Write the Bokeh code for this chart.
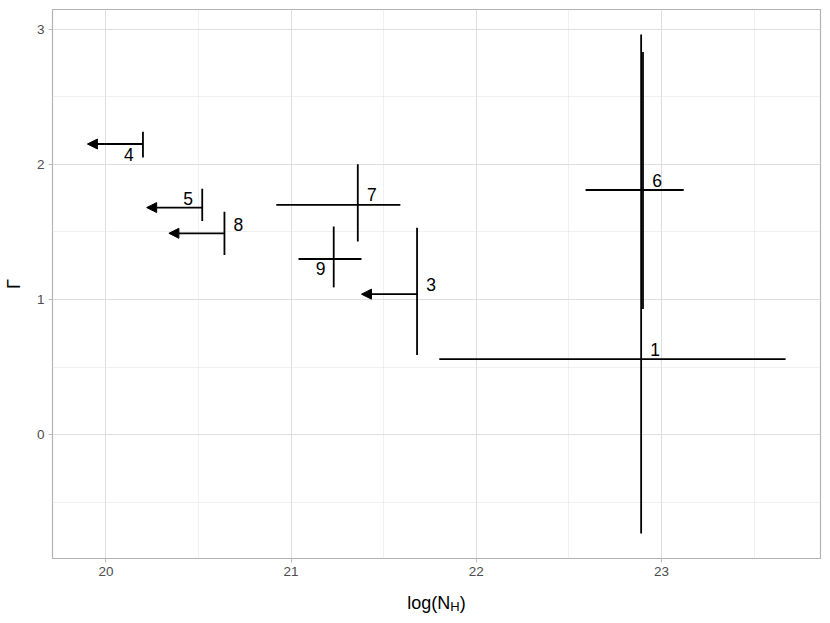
from bokeh.plotting import figure
from bokeh.layouts import column
from bokeh.models import ColumnDataSource, Range1d, FixedTicker, Arrow, NormalHead
from bokeh.embed import file_html
from bokeh.resources import INLINE
from bokeh.core.properties import value

# ---------------- data ----------------
labels = ["1", "3", "4", "5", "6", "7", "8", "9"]
log_nh = [22.89, 21.68, 20.20, 20.52, 22.90, 21.36, 20.64, 21.23]
log_nh_lo = [21.80, None, None, None, 22.59, 20.92, None, 21.04]
log_nh_hi = [23.67, None, None, None, 23.12, 21.59, None, 21.38]
nh_upper_limit = [False, True, True, True, False, False, True, False]
gamma = [0.56, 1.04, 2.15, 1.68, 1.81, 1.70, 1.49, 1.30]
gamma_lo = [-0.73, 0.59, 2.05, 1.58, 0.93, 1.43, 1.33, 1.09]
gamma_hi = [2.96, 1.53, 2.24, 1.82, 2.83, 2.00, 1.65, 1.54]
x_ticks = [20, 21, 22, 23]
y_ticks = [0, 1, 2, 3]
x_tick_labels = ["20", "21", "22", "23"]
y_tick_labels = ["0", "1", "2", "3"]
x_title_parts = ["log(N", "H", ")"]
y_title = "Γ"

# ---------------- style ----------------
LIMIT_ARROW = 0.3
FONT = "Liberation Sans"
label_offsets = {  # screen px (dx, dy), dy positive = down
    "1": (14, -10), "3": (14, -10), "4": (-14, 10), "5": (-14, -9),
    "6": (14, -9), "7": (14, -10), "8": (14, -9), "9": (-13, 10),
}

# error bars / arrows
ys_src = ColumnDataSource(dict(x=log_nh, y0=gamma_lo, y1=gamma_hi))
hy, hx0, hx1 = [], [], []
ax, ay, axe = [], [], []
for i in range(len(labels)):
    if nh_upper_limit[i]:
        ax.append(log_nh[i]); ay.append(gamma[i]); axe.append(log_nh[i] - LIMIT_ARROW)
    else:
        hy.append(gamma[i]); hx0.append(log_nh_lo[i]); hx1.append(log_nh_hi[i])
hs_src = ColumnDataSource(dict(y=hy, x0=hx0, x1=hx1))
ar_src = ColumnDataSource(dict(xs=ax, ys=ay, xe=axe, ye=ay))
lab_src = ColumnDataSource(dict(
    x=log_nh, y=gamma, text=labels,
    dx=[label_offsets[l][0] for l in labels],
    dy=[label_offsets[l][1] for l in labels],
))

# ranges with 5% expansion
xs_all = [v for v in log_nh_lo + log_nh_hi + log_nh + axe if v is not None]
ys_all = gamma_lo + gamma_hi
xmin, xmax = min(xs_all), max(xs_all)
ymin, ymax = min(ys_all), max(ys_all)
xpad = 0.05 * (xmax - xmin)
ypad = 0.05 * (ymax - ymin)

W, H1, H2 = 826, 585, 30
FL, FR = 52, 820  # frame left / right in page px
p = figure(width=W, height=H1, output_backend="svg", toolbar_location=None,
           x_range=Range1d(xmin - xpad, xmax + xpad),
           y_range=Range1d(ymin - ypad, ymax + ypad),
           min_border_left=FL, min_border_right=W - FR,
           min_border_top=9, min_border_bottom=27,
           background_fill_color="white", border_fill_color="white")
p.outline_line_color = "#B3B3B3"
p.outline_line_width = 1.2

x_minor = [t + 0.5 for t in range(19, 24)]
y_minor = [t + 0.5 for t in range(-2, 4)]
p.xaxis.ticker = FixedTicker(ticks=x_ticks, minor_ticks=x_minor)
p.yaxis.ticker = FixedTicker(ticks=y_ticks, minor_ticks=y_minor)
p.xaxis.major_label_overrides = {t: s for t, s in zip(x_ticks, x_tick_labels)}
p.yaxis.major_label_overrides = {t: s for t, s in zip(y_ticks, y_tick_labels)}
for a in (p.xaxis, p.yaxis):
    a.axis_line_color = None
    a.major_tick_line_color = "#B3B3B3"
    a.major_tick_line_width = 0.9
    a.major_tick_out = 4
    a.major_tick_in = 0
    a.minor_tick_line_color = None
    a.major_label_text_font = FONT
    a.major_label_text_font_size = "13.5px"
    a.major_label_text_color = "#4D4D4D"
    a.major_label_standoff = 4
p.xaxis.axis_label = None
p.yaxis.axis_label = y_title
p.yaxis.axis_label_text_font = FONT
p.yaxis.axis_label_text_font_size = "18px"
p.yaxis.axis_label_text_font_style = "normal"
p.yaxis.axis_label_text_color = "black"
p.yaxis.axis_label_standoff = 10

for g in (p.xgrid, p.ygrid):
    g.grid_line_color = "#DEDEDE"
    g.grid_line_width = 1.0
    g.minor_grid_line_color = "#E6E6E6"
    g.minor_grid_line_width = 0.6

LW = 1.8
p.segment(x0="x", y0="y0", x1="x", y1="y1", source=ys_src, line_color="black", line_width=LW)
p.segment(x0="x0", y0="y", x1="x1", y1="y", source=hs_src, line_color="black", line_width=LW)
p.add_layout(Arrow(end=NormalHead(size=10, fill_color="black", line_color="black", line_width=1),
                   x_start="xs", y_start="ys", x_end="xe", y_end="ye", source=ar_src,
                   line_color="black", line_width=LW))

p.text(x="x", y="y", text="text", x_offset="dx", y_offset="dy", source=lab_src,
       text_font=value(FONT), text_font_size="17.5px", text_color="black",
       text_align="center", text_baseline="middle")

# x-axis title strip (log(N_H)) as real text in a small figure below;
# its frame is aligned with the main frame, so its x range is page px FL..FR
t = figure(width=W, height=H2, output_backend="svg", toolbar_location=None,
           x_range=Range1d(FL, FR), y_range=Range1d(0, H2),
           min_border_left=FL, min_border_right=W - FR, min_border_top=0, min_border_bottom=0,
           outline_line_color=None,
           background_fill_color="white", border_fill_color="white")
t.axis.visible = False
t.grid.visible = False
main_size, sub_size = 18, 13
w_main = (0.222 + 0.556 + 0.556 + 0.333 + 0.722) * main_size
w_sub = 0.722 * sub_size
w_close = 0.333 * main_size
center = FL + (FR - FL) / 2
x0 = center - (w_main + w_sub + w_close) / 2
t_src_main = ColumnDataSource(dict(x=[x0, x0 + w_main + w_sub], y=[12.7, 12.7],
                                   text=[x_title_parts[0], x_title_parts[2]]))
t_src_sub = ColumnDataSource(dict(x=[x0 + w_main], y=[9.3], text=[x_title_parts[1]]))
t.text(x="x", y="y", text="text", source=t_src_main, text_font=value(FONT),
       text_font_size=f"{main_size}px", text_color="black",
       text_align="left", text_baseline="alphabetic")
t.text(x="x", y="y", text="text", source=t_src_sub, text_font=value(FONT),
       text_font_size=f"{sub_size}px", text_color="black",
       text_align="left", text_baseline="alphabetic")

layout = column(p, t, spacing=0)
open("out.html", "w").write(file_html(layout, INLINE))
